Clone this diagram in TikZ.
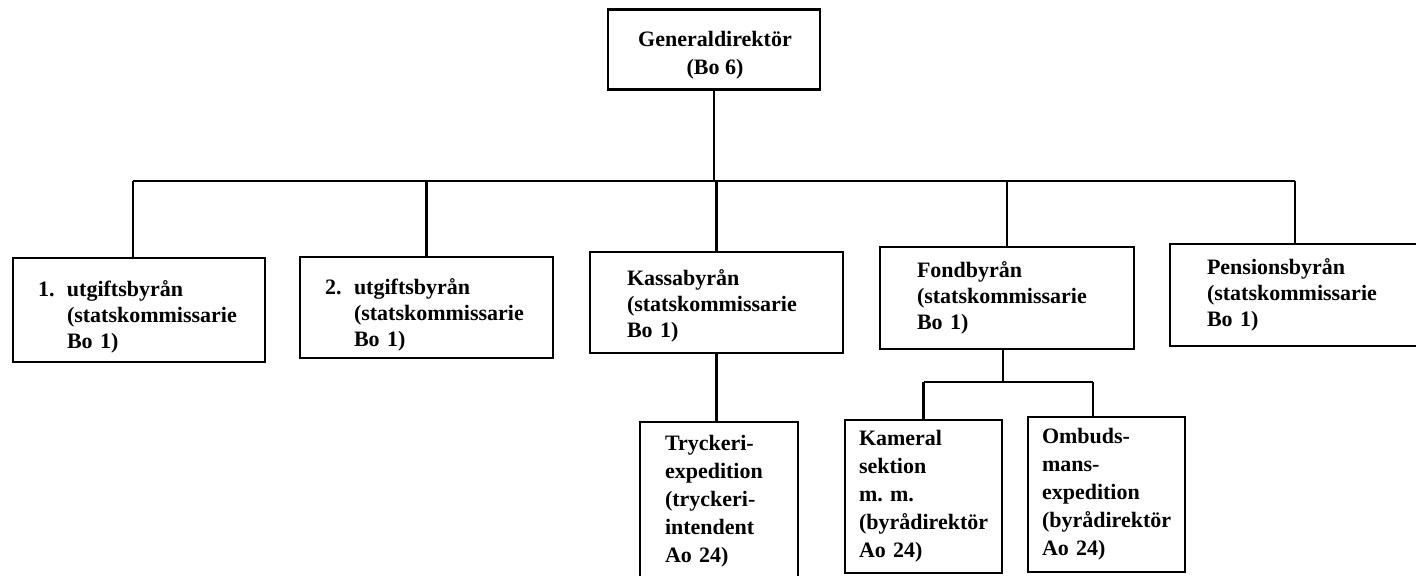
\documentclass[tikz,border=0pt]{standalone}
\usepackage{fontspec}
\setmainfont{Liberation Serif}
\newcommand{\unitfont}{\fontsize{11}{13}\selectfont\bfseries}
\newcommand{\subfont}{\fontsize{11}{14}\selectfont\bfseries}
\newcommand{\hang}[1]{\makebox[14.5pt][l]{#1}}
\begin{document}
\begin{tikzpicture}[x=0.5pt,y=-0.5pt,
  link/.style={line width=1.25pt},
  unit/.style={draw, line width=1.25pt, rectangle, inner ysep=0pt, align=left, font=\unitfont},
  subunit/.style={unit, font=\subfont},
  caption/.style={inner sep=0pt, align=center, font=\subfont}]
\useasboundingbox (0,0) rectangle (1416,576);

% head of the office
\node[draw, line width=1.25pt, minimum width=106pt, minimum height=40pt] (gd) at (714,49.5) {};
\node[caption] (gdt) at (715,55) {Generaldirektör\\(Bo 6)};

% the five bureaus
\node[unit, inner xsep=12.5pt, text width=101pt, text height=15pt, minimum height=52pt] (b1) at (139,310)
  {\hang{1.}utgiftsbyrån\\\hspace*{14.5pt}(statskommissarie\\\hspace*{14.5pt}Bo 1)};
\node[unit, inner xsep=12.5pt, text width=101.5pt, text height=15pt, minimum height=50.5pt] (b2) at (426.5,307.5)
  {\hang{2.}utgiftsbyrån\\\hspace*{14.5pt}(statskommissarie\\\hspace*{14.5pt}Bo 1)};
\node[unit, inner xsep=18.5pt, text width=89.5pt, text height=11pt, minimum height=50.5pt] (b3) at (716.5,302.5)
  {Kassabyrån\\(statskommissarie\\Bo 1)};
\node[unit, inner xsep=18.5pt, text width=90pt, minimum height=51pt] (b4) at (1007,298)
  {Fondbyrån\\(statskommissarie\\Bo 1)};
\node[unit, inner xsep=18.5pt, text width=88pt, minimum height=51pt] (b5) at (1295,295)
  {Pensionsbyrån\\(statskommissarie\\Bo 1)};

% sections under Kassabyrån and Fondbyrån
\node[subunit, inner xsep=12.5pt, text width=54pt, minimum height=79pt] (t1) at (719,501)
  {Tryckeri-\\expedition\\(tryckeri-\\intendent\\Ao 24)};
\node[subunit, inner xsep=7pt, text width=64.5pt, minimum height=76.5pt] (k1) at (923.5,496.5)
  {Kameral\\sektion\\m.\ m.\\(byrådirektör\\Ao 24)};
\node[subunit, inner xsep=7pt, text width=64.5pt, minimum height=77.5pt] (o1) at (1106.5,494.5)
  {Ombuds-\\mans-\\expedition\\(byrådirektör\\Ao 24)};

% connectors
\coordinate (bus) at (0,181);
\coordinate (d1) at ([xshift=-3pt]b1.north);
\draw[link] (gd.south) -- (gd.south |- bus);
\draw[link] (d1 |- bus) -- (b5.north |- bus);
\draw[link] (d1 |- bus) -- (d1);
\foreach \u in {b2,b3,b4,b5}
  \draw[link] (\u.north |- bus) -- (\u.north);

\draw[link] (b3.south) -- (b3.south |- t1.north);

\coordinate (fbus) at (0,382);
\coordinate (fd) at ([xshift=-2pt]b4.south);
\coordinate (od) at ([xshift=-6.75pt]o1.north);
\draw[link] (fd) -- (fd |- fbus);
\draw[link] (k1.north |- fbus) -- (od |- fbus);
\draw[link] (k1.north |- fbus) -- (k1.north);
\draw[link] (od |- fbus) -- (od);
\end{tikzpicture}
\end{document}
